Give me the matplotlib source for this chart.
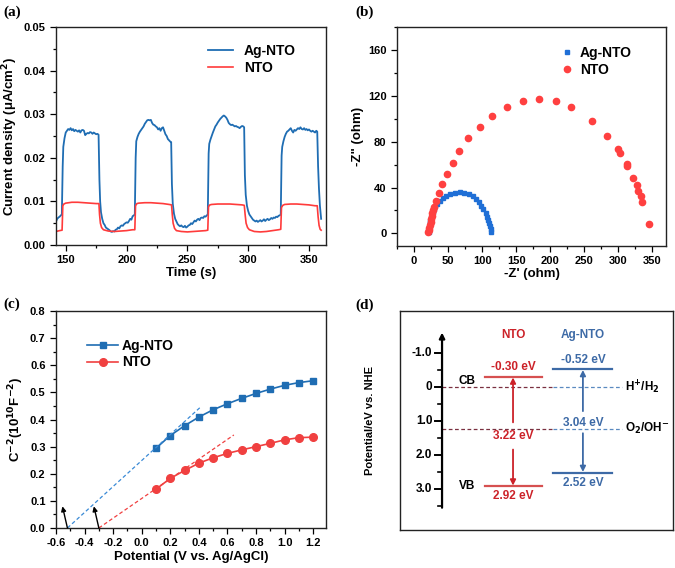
import matplotlib
matplotlib.use('Agg')
import matplotlib.pyplot as plt
from matplotlib.ticker import MultipleLocator, FormatStrFormatter

plt.rcParams['font.family'] = ['Liberation Sans', 'DejaVu Sans']
plt.rcParams['font.weight'] = 'bold'
plt.rcParams['axes.labelweight'] = 'bold'

# ---- (a) photocurrent ----
t_ag = [142, 143, 144, 145, 146, 146.8, 147.5, 148, 149, 150, 151, 152, 153, 154, 155, 156, 157, 158, 159, 160,
        161, 162, 163, 164, 165, 166, 167, 168, 169, 170, 171, 172, 173, 174, 175, 176, 177,
        177.7, 178.3, 179, 180, 181, 182, 183, 184, 185, 186, 187, 188, 189, 190, 191, 192, 193, 194, 195, 196,
        197, 198, 199, 200, 201, 202, 203, 204, 205, 206, 206.8,
        207.5, 208, 209, 210, 211, 212, 213, 214, 215, 216, 217, 218, 219, 220, 221, 222, 223, 224, 225, 226,
        227, 228, 229, 230, 231, 232, 233, 234, 235, 236, 236.7,
        237.3, 238, 239, 240, 241, 242, 243, 244, 245, 246, 247, 248, 249, 250, 251, 252, 253, 254, 255, 256,
        257, 258, 259, 260, 261, 262, 263, 264, 265, 266, 266.8,
        267.5, 268, 269, 270, 271, 272, 273, 274, 275, 276, 277, 278, 279, 280, 281, 282, 283, 284, 285, 286,
        287, 288, 289, 290, 291, 292, 293, 294, 295, 296, 296.7,
        297.3, 298, 299, 300, 301, 302, 303, 304, 305, 306, 307, 308, 309, 310, 311, 312, 313, 314, 315, 316,
        317, 318, 319, 320, 321, 322, 323, 324, 325, 326, 326.8,
        327.5, 328, 329, 330, 331, 332, 333, 334, 335, 336, 337, 338, 339, 340, 341, 342, 343, 344, 345, 346,
        347, 348, 349, 350, 351, 352, 353, 354, 355, 356, 356.8,
        357.5, 358.2, 359, 360]
j_ag = [0.0054, 0.0060, 0.0063, 0.0065, 0.0068, 0.0070, 0.0180, 0.0225, 0.0245, 0.0258, 0.0262, 0.0266, 0.0264,
        0.0268, 0.0263, 0.0266, 0.0261, 0.0264, 0.0262, 0.0260, 0.0263, 0.0258, 0.0263, 0.0264, 0.0262, 0.0252,
        0.0255, 0.0257, 0.0256, 0.0259, 0.0258, 0.0255, 0.0258, 0.0256, 0.0254, 0.0255, 0.0253,
        0.0150, 0.0100, 0.0075, 0.0060, 0.0050, 0.0046, 0.0040, 0.0038, 0.0036, 0.0034, 0.0031, 0.0030, 0.0032,
        0.0031, 0.0035, 0.0036, 0.0040, 0.0038, 0.0043, 0.0045, 0.0044, 0.0048, 0.0050, 0.0052, 0.0051, 0.0055,
        0.0060, 0.0058, 0.0066, 0.0068, 0.0070,
        0.0200, 0.0238, 0.0248, 0.0255, 0.0260, 0.0264, 0.0268, 0.0272, 0.0278, 0.0282, 0.0286, 0.0287, 0.0286,
        0.0287, 0.0280, 0.0276, 0.0275, 0.0272, 0.0270, 0.0265, 0.0268, 0.0262, 0.0268, 0.0270, 0.0262, 0.0254,
        0.0250, 0.0243, 0.0240, 0.0237, 0.0236,
        0.0140, 0.0095, 0.0072, 0.0060, 0.0054, 0.0048, 0.0045, 0.0043, 0.0045, 0.0042, 0.0041, 0.0044, 0.0040,
        0.0042, 0.0045, 0.0046, 0.0050, 0.0048, 0.0052, 0.0056, 0.0054, 0.0058, 0.0060, 0.0057, 0.0062, 0.0063,
        0.0062, 0.0066, 0.0065, 0.0068, 0.0070,
        0.0210, 0.0232, 0.0242, 0.0250, 0.0258, 0.0265, 0.0272, 0.0276, 0.0281, 0.0285, 0.0289, 0.0292, 0.0295,
        0.0297, 0.0295, 0.0292, 0.0287, 0.0280, 0.0277, 0.0275, 0.0276, 0.0274, 0.0272, 0.0273, 0.0271, 0.0270,
        0.0268, 0.0271, 0.0273, 0.0272, 0.0270,
        0.0160, 0.0115, 0.0090, 0.0078, 0.0070, 0.0066, 0.0062, 0.0058, 0.0056, 0.0054, 0.0056, 0.0053, 0.0055,
        0.0057, 0.0054, 0.0056, 0.0059, 0.0055, 0.0058, 0.0060, 0.0057, 0.0059, 0.0062, 0.0060, 0.0063, 0.0062,
        0.0065, 0.0064, 0.0067, 0.0068, 0.0070,
        0.0205, 0.0225, 0.0238, 0.0248, 0.0255, 0.0260, 0.0262, 0.0265, 0.0268, 0.0262, 0.0258, 0.0264, 0.0262,
        0.0265, 0.0268, 0.0266, 0.0270, 0.0266, 0.0265, 0.0268, 0.0264, 0.0266, 0.0263, 0.0265, 0.0262, 0.0260,
        0.0262, 0.0260, 0.0258, 0.0262, 0.0260,
        0.0180, 0.0130, 0.0090, 0.0060]

t_nto = [142, 145, 147, 147.6, 148.5, 150, 155, 160, 165, 170, 175, 177.3, 177.8, 178.5, 179.5, 181, 185, 190,
         195, 200, 205, 206.8, 207.4, 208.5, 210, 215, 220, 225, 230, 235, 237.0, 237.6, 238.3, 239.5, 241, 245,
         250, 255, 260, 265, 266.8, 267.4, 268.5, 270, 275, 280, 285, 290, 295, 296.8, 297.5, 298.3, 299.5, 301,
         305, 310, 315, 320, 325, 326.8, 327.4, 328.5, 330, 335, 340, 345, 350, 355, 356.8, 357.5, 358.3, 359.2, 360]
j_nto = [0.0031, 0.0033, 0.0034, 0.0090, 0.0094, 0.0096, 0.0098, 0.0098, 0.0097, 0.0096, 0.0095, 0.0095, 0.0070,
         0.0050, 0.0040, 0.0035, 0.0032, 0.0031, 0.0032, 0.0033, 0.0035, 0.0035, 0.0090, 0.0095, 0.0096, 0.0097,
         0.0097, 0.0096, 0.0095, 0.0093, 0.0092, 0.0070, 0.0050, 0.0038, 0.0033, 0.0031, 0.0030, 0.0031, 0.0032,
         0.0033, 0.0034, 0.0088, 0.0092, 0.0093, 0.0094, 0.0094, 0.0094, 0.0093, 0.0092, 0.0091, 0.0070, 0.0050,
         0.0040, 0.0035, 0.0031, 0.0030, 0.0031, 0.0033, 0.0035, 0.0036, 0.0086, 0.0091, 0.0093, 0.0094, 0.0094,
         0.0093, 0.0092, 0.0090, 0.0090, 0.0065, 0.0045, 0.0036, 0.0034]

# ---- (b) Nyquist ----
zr_ag = [21.5, 22, 22.5, 23, 23.5, 24, 25, 26, 27.5, 29, 31, 34, 38, 42, 47, 53, 60, 67, 74, 80, 86, 91, 95, 99,
         102, 105, 107, 109, 110.5, 111.5, 112.5, 113.5]
zi_ag = [1, 3, 5, 7, 9, 11, 13.5, 16, 18.5, 21, 23.5, 26, 28.5, 30.5, 32.5, 34, 35.2, 35.8, 35.3, 34.3, 32.5, 30,
         27, 24, 21, 17.5, 14.5, 11.5, 9, 6.5, 4, 1]
zr_nto = [21, 22, 22.5, 23.5, 24.5, 25, 26, 27, 28, 29, 32, 36, 41.4, 47.8, 56.5, 66.3, 79.4, 96.5, 115, 137, 160,
          184, 208.6, 230.5, 261, 284, 299, 302.6, 312, 313, 321.6, 327, 329.5, 333, 335.3, 345]
zi_nto = [1, 3, 5, 7.5, 10, 12.5, 15, 17.5, 20, 22.7, 28, 35, 43, 51.5, 61, 72, 83, 93, 102.7, 110.5, 115.5,
          117, 115.5, 110.5, 98.3, 85, 73.3, 69.8, 60.5, 58.8, 48.6, 42, 37, 32.6, 27.6, 8]

# ---- (c) Mott-Schottky ----
pot = [0.1, 0.2, 0.3, 0.4, 0.5, 0.6, 0.7, 0.8, 0.9, 1.0, 1.1, 1.2]
ms_ag = [0.294, 0.341, 0.377, 0.409, 0.436, 0.458, 0.478, 0.496, 0.512, 0.526, 0.536, 0.543]
ms_nto = [0.143, 0.183, 0.212, 0.239, 0.259, 0.275, 0.288, 0.300, 0.312, 0.325, 0.333, 0.335]
fit_ag_x = [-0.52, 0.41]
fit_ag_y = [0.0, 0.445]
fit_nto_x = [-0.30, 0.645]
fit_nto_y = [0.0, 0.343]

# ---- (d) band positions ----
cb_nto, vb_nto = -0.30, 2.92
cb_ag, vb_ag = -0.52, 2.52
e_h2 = 0.0
e_o2 = 1.23

blue = '#1f6db3'
red = '#ff3b3b'
dred = '#cc2229'
dblue = '#3d6aa6'

W, H = 675, 568
fig = plt.figure(figsize=(W / 100, H / 100), dpi=100)


def box(l, t, r, b):
    return [l / W, 1 - b / H, (r - l) / W, (b - t) / H]


def style(ax):
    for s in ax.spines.values():
        s.set_linewidth(1.0)
        s.set_color('#222222')
    ax.tick_params(which='both', direction='out', top=False, right=False, labelsize=8, width=0.9)
    ax.tick_params(which='major', length=4)
    ax.tick_params(which='minor', length=2)
    for lab in ax.get_xticklabels() + ax.get_yticklabels():
        lab.set_fontweight('bold')


leg = {'weight': 'bold', 'size': 10}

# (a)
ax = fig.add_axes(box(56, 27, 326, 245))
ax.plot(t_ag, j_ag, color=blue, lw=1.3, label='Ag-NTO')
ax.plot(t_nto, j_nto, color=red, lw=1.2, label='NTO')
ax.set_xlim(142, 364)
ax.set_ylim(0, 0.05)
ax.xaxis.set_major_locator(MultipleLocator(50))
ax.xaxis.set_minor_locator(MultipleLocator(25))
ax.yaxis.set_major_locator(MultipleLocator(0.01))
ax.yaxis.set_minor_locator(MultipleLocator(0.005))
ax.yaxis.set_major_formatter(FormatStrFormatter('%.2f'))
ax.set_xlabel('Time (s)', fontsize=9.5, labelpad=1)
ax.set_ylabel('Current density (μA/cm$^\\mathbf{2}$)', fontsize=9.5, labelpad=3)
ax.legend(loc='upper right', bbox_to_anchor=(0.935, 0.98), frameon=False,
          handlelength=1.8, labelspacing=0.2, prop=leg)
style(ax)

# (b)
ax = fig.add_axes(box(397, 27, 666, 246))
ax.plot(zr_ag, zi_ag, 's', color='#1f6fd6', ms=3.5, label='Ag-NTO')
ax.plot(zr_nto, zi_nto, 'o', color='#ff4040', ms=4.5, label='NTO')
ax.set_xlim(-25, 370)
ax.set_ylim(-11, 180)
ax.xaxis.set_major_locator(MultipleLocator(50))
ax.xaxis.set_minor_locator(MultipleLocator(25))
ax.yaxis.set_major_locator(MultipleLocator(40))
ax.yaxis.set_minor_locator(MultipleLocator(20))
ax.set_xlabel("-Z' (ohm)", fontsize=9.5, labelpad=1)
ax.set_ylabel('-Z" (ohm)', fontsize=9.5, labelpad=3)
ax.legend(loc='upper right', bbox_to_anchor=(0.92, 0.97), frameon=False, handletextpad=0.3,
          labelspacing=0.2, handlelength=1.2, prop=leg)
style(ax)

# (c)
ax = fig.add_axes(box(56, 311, 326, 528))
ax.plot(pot, ms_ag, 's-', color='#1f6db3', ms=5, lw=1.2, label='Ag-NTO')
ax.plot(pot, ms_nto, 'o-', color='#f04040', ms=5.5, lw=1.2, label='NTO')
ax.plot(fit_ag_x, fit_ag_y, '--', color='#3a8ad6', lw=0.9, dashes=(3, 2))
ax.plot(fit_nto_x, fit_nto_y, '--', color='#f04040', lw=0.9, dashes=(3, 2))
for x0 in (fit_ag_x[0], fit_nto_x[0]):
    ax.annotate('', xy=(x0 - 0.035, 0.08), xytext=(x0, 0.0),
                arrowprops=dict(arrowstyle='-|>', color='k', lw=1.0, mutation_scale=7,
                                shrinkA=0, shrinkB=0))
ax.set_xlim(-0.6, 1.29)
ax.set_ylim(0, 0.8)
ax.xaxis.set_major_locator(MultipleLocator(0.2))
ax.xaxis.set_minor_locator(MultipleLocator(0.1))
ax.yaxis.set_major_locator(MultipleLocator(0.1))
ax.yaxis.set_minor_locator(MultipleLocator(0.05))
ax.xaxis.set_major_formatter(FormatStrFormatter('%.1f'))
ax.yaxis.set_major_formatter(FormatStrFormatter('%.1f'))
ax.set_xlabel('Potential (V vs. Ag/AgCl)', fontsize=9.5, labelpad=2)
ax.set_ylabel('C$^{\\mathbf{-2}}$(10$^{\\mathbf{10}}$F$^{\\mathbf{-2}}$)', fontsize=9.5, labelpad=3)
ax.legend(loc='upper left', bbox_to_anchor=(0.07, 0.93), frameon=False, handlelength=2.2,
          handletextpad=0.3, labelspacing=0.2, prop=leg)
style(ax)

# (d)
ax = fig.add_axes(box(400, 311, 673, 530))
ax.set_xlim(0, 1)
ax.set_ylim(4.206, -2.235)
ax.set_xticks([])
ax.set_yticks([])
for s in ax.spines.values():
    s.set_linewidth(1.0)
    s.set_color('#222222')

xa = 0.154
ax.annotate('', xy=(xa, -1.6), xytext=(xa, 3.55),
            arrowprops=dict(arrowstyle='-|>', color='k', lw=1.6, mutation_scale=8, shrinkA=0, shrinkB=0))
for e in [-1.0, 0.0, 1.0, 2.0, 3.0]:
    ax.plot([xa - 0.025, xa], [e, e], color='k', lw=1.4)
    ax.text(xa - 0.035, e, '0' if e == 0 else '%.1f' % e, ha='right', va='center', fontsize=8.5,
            fontweight='bold')
for e in [-0.5, 0.5, 1.5, 2.5, 3.5]:
    ax.plot([xa - 0.014, xa], [e, e], color='k', lw=1.2)

ax.text(-0.11, 1.0, 'Potential/eV vs. NHE', rotation=90, ha='center', va='center', fontsize=8,
        fontweight='bold', clip_on=False)

xn0, xn1, xn = 0.311, 0.520, 0.414
xg0, xg1, xg = 0.560, 0.777, 0.670
xe = 0.813

for e in (e_h2, e_o2):
    ax.plot([xa, 0.56], [e, e], color='#7a3040', lw=0.9, dashes=(3, 2))
    ax.plot([0.56, xe], [e, e], color='#5a8ac0', lw=0.9, dashes=(3, 2))
ax.text(0.825, e_h2, 'H$^{+}$/H$_{2}$', ha='left', va='center', fontsize=8.5, fontweight='bold')
ax.text(0.825, e_o2, 'O$_{2}$/OH$^{-}$', ha='left', va='center', fontsize=8.5, fontweight='bold')

ax.plot([xn0, xn1], [cb_nto, cb_nto], color='#d65050', lw=1.6)
ax.plot([xn0, xn1], [vb_nto, vb_nto], color='#d65050', lw=1.6)
ax.plot([xg0, xg1], [cb_ag, cb_ag], color=dblue, lw=1.6)
ax.plot([xg0, xg1], [vb_ag, vb_ag], color=dblue, lw=1.6)

ax.text(0.245, cb_nto + 0.13, 'CB', ha='center', va='center', fontsize=8.5, fontweight='bold')
ax.text(0.245, vb_nto, 'VB', ha='center', va='center', fontsize=8.5, fontweight='bold')
ax.text(xn, -1.53, 'NTO', ha='center', va='center', color=dred, fontsize=8.5, fontweight='bold')
ax.text(xg, -1.53, 'Ag-NTO', ha='center', va='center', color=dblue, fontsize=8.5, fontweight='bold')
ax.text(xn, cb_nto - 0.1, '%.2f eV' % cb_nto, ha='center', va='bottom', color=dred, fontsize=8.5,
        fontweight='bold')
ax.text(xn, vb_nto + 0.12, '%.2f eV' % vb_nto, ha='center', va='top', color=dred, fontsize=8.5,
        fontweight='bold')
ax.text(xg, cb_ag - 0.1, '%.2f eV' % cb_ag, ha='center', va='bottom', color=dblue, fontsize=8.5,
        fontweight='bold')
ax.text(xg, vb_ag + 0.12, '%.2f eV' % vb_ag, ha='center', va='top', color=dblue, fontsize=8.5,
        fontweight='bold')

mid_n = 1.44
mid_g = 1.06
ax.text(xn, mid_n, '%.2f eV' % (vb_nto - cb_nto), ha='center', va='center', color=dred, fontsize=8.5,
        fontweight='bold')
ax.text(xg, mid_g, '%.2f eV' % (vb_ag - cb_ag), ha='center', va='center', color=dblue, fontsize=8.5,
        fontweight='bold')
arr = dict(arrowstyle='-|>', lw=1.3, mutation_scale=8, shrinkA=0, shrinkB=0)
ax.annotate('', xy=(xn, cb_nto + 0.02), xytext=(xn, mid_n - 0.4), arrowprops=dict(arr, color=dred))
ax.annotate('', xy=(xn, vb_nto - 0.02), xytext=(xn, mid_n + 0.4), arrowprops=dict(arr, color=dred))
ax.annotate('', xy=(xg, cb_ag + 0.02), xytext=(xg, mid_g - 0.35), arrowprops=dict(arr, color=dblue))
ax.annotate('', xy=(xg, vb_ag - 0.02), xytext=(xg, mid_g + 0.3), arrowprops=dict(arr, color=dblue))

# panel letters
for x, y, s in [(3, 12, '(a)'), (355, 12, '(b)'), (3, 304, '(c)'), (355, 305, '(d)')]:
    fig.text(x / W, 1 - y / H, s, fontsize=11, fontweight='bold', family='Liberation Serif',
             ha='left', va='center')

fig.savefig('out.png', dpi=100)
